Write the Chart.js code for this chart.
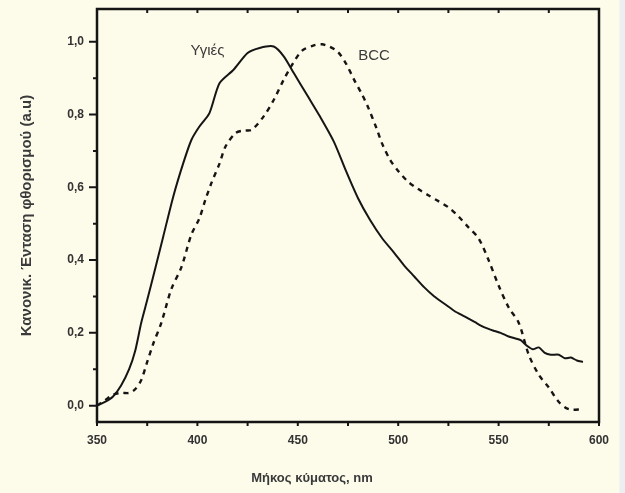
<!DOCTYPE html>
<html>
<head>
<meta charset="utf-8">
<script src="https://cdn.jsdelivr.net/npm/chart.js@4/dist/chart.umd.min.js"></script>
<style>
  html, body { margin: 0; padding: 0; background: #fdfbea; }
  #wrap { width: 625px; height: 493px; position: relative;
          background: linear-gradient(to right, #fdfbea 619px, #eceef2 620px); }
</style>
</head>
<body>
<div id="wrap"><canvas id="chart" width="625" height="493"></canvas></div>
<script>
// ============================================================
// Φάσματα φθορισμού: υγιής ιστός (Υγιές) vs BCC
// ============================================================

const healthyNm  = [350, 354, 358, 362, 366, 369, 372, 375, 378, 383, 388, 393, 397, 401, 406, 411, 418, 425, 431, 438,
                    443, 448, 455, 461, 468, 474, 480, 486, 492, 498, 503, 508, 513, 518, 523, 528, 533, 538,
                    543, 548, 551, 555, 558, 561, 564, 567, 570, 573, 576, 580, 583, 586, 589, 592];
const healthyVal = [0.0, 0.01, 0.025, 0.055, 0.10, 0.15, 0.227, 0.29, 0.355, 0.465, 0.575, 0.667, 0.73, 0.767, 0.804, 0.886, 0.923, 0.969, 0.983, 0.987,
                    0.96, 0.914, 0.85, 0.795, 0.725, 0.645, 0.57, 0.51, 0.46, 0.42, 0.385, 0.355, 0.325, 0.30, 0.28, 0.26, 0.245, 0.23,
                    0.215, 0.205, 0.20, 0.19, 0.185, 0.18, 0.165, 0.155, 0.16, 0.145, 0.14, 0.14, 0.13, 0.132, 0.124, 0.12];

const bccNm  = [350, 354, 358, 362, 366, 369, 372, 375, 378, 382, 387, 392, 397, 401, 404, 407, 411, 414, 419, 423,
                427, 433, 438, 443, 447, 452, 458, 462, 466, 470, 474, 478, 482, 485, 489, 492, 496, 500,
                505, 510, 515, 520, 525, 530, 535, 540, 545, 550, 555, 560, 565, 570, 575, 580, 585, 592];
const bccVal = [0.0, 0.015, 0.03, 0.035, 0.035, 0.045, 0.07, 0.12, 0.17, 0.227, 0.32, 0.38, 0.47, 0.515, 0.566, 0.612, 0.665, 0.712, 0.749, 0.756,
                0.758, 0.795, 0.84, 0.896, 0.935, 0.975, 0.99, 0.993, 0.986, 0.972, 0.94, 0.896, 0.855, 0.82, 0.765, 0.72, 0.675, 0.645,
                0.615, 0.595, 0.578, 0.562, 0.545, 0.52, 0.49, 0.46, 0.40, 0.33, 0.27, 0.228, 0.14, 0.085, 0.05, 0.01, -0.01, -0.01];

const xTicks = [350, 375, 400, 425, 450, 475, 500, 525, 550, 575, 600];
const yTicks = [0, 0.1, 0.2, 0.3, 0.4, 0.5, 0.6, 0.7, 0.8, 0.9, 1.0];

const xTitle = 'Μήκος κύματος, nm';
const yTitle = 'Κανονικ. Ένταση φθορισμού (a.u)';
const curveLabels = [
  { text: 'Υγιές', x: 405, y: 0.975 },
  { text: 'BCC',   x: 488, y: 0.962 },
];

const ink = '#151515';
const fam = '"Liberation Sans", Arial, sans-serif';

function pts(xs, ys) { return xs.map((x, i) => ({ x, y: ys[i] })); }

// Рамка, засечки и подписи — рисуем сами, чтобы были мелкие засечки
const framePlugin = {
  id: 'frame',
  afterDatasetsDraw(chart) {
    const { ctx, chartArea: a, scales: { x, y } } = chart;
    ctx.save();
    ctx.strokeStyle = ink;
    ctx.lineWidth = 2.5;
    ctx.strokeRect(a.left, a.top, a.right - a.left, a.bottom - a.top);

    ctx.lineWidth = 2;
    ctx.beginPath();
    for (const v of xTicks) {
      const px = x.getPixelForValue(v);
      ctx.moveTo(px, a.bottom);
      ctx.lineTo(px, a.bottom + 4);
      if (v > xTicks[0] && v < xTicks[xTicks.length - 1]) {
        ctx.moveTo(px, a.top);
        ctx.lineTo(px, a.top + 4);
      }
    }
    yTicks.forEach((v, i) => {
      const py = y.getPixelForValue(v);
      ctx.moveTo(a.left - (i % 2 === 0 ? 8 : 4), py);
      ctx.lineTo(a.left, py);
    });
    ctx.stroke();

    // подписи кривых
    ctx.fillStyle = '#3a3a3a';
    ctx.font = '15px ' + fam;
    ctx.textAlign = 'center';
    ctx.textBaseline = 'middle';
    for (const l of curveLabels) {
      ctx.fillText(l.text, x.getPixelForValue(l.x), y.getPixelForValue(l.y));
    }

    // заголовки осей
    ctx.font = 'bold 13px ' + fam;
    ctx.fillText(xTitle, 312, 478);
    ctx.translate(27, (a.top + a.bottom) / 2);
    ctx.rotate(-Math.PI / 2);
    ctx.font = 'bold 15px ' + fam;
    ctx.fillText(yTitle, 0, 0);
    ctx.restore();
  }
};

new Chart(document.getElementById('chart'), {
  type: 'line',
  data: {
    datasets: [
      {
        label: 'Υγιές',
        data: pts(healthyNm, healthyVal),
        borderColor: ink,
        borderWidth: 2,
        pointRadius: 0,
        tension: 0.25,
        fill: false,
      },
      {
        label: 'BCC',
        data: pts(bccNm, bccVal),
        borderColor: ink,
        borderWidth: 2.4,
        borderDash: [5, 5],
        pointRadius: 0,
        tension: 0.3,
        fill: false,
      },
    ],
  },
  options: {
    responsive: false,
    animation: false,
    devicePixelRatio: 1,
    layout: { padding: { top: 9, right: 26, left: 0, bottom: 0 } },
    plugins: { legend: { display: false }, tooltip: { enabled: false } },
    scales: {
      x: {
        type: 'linear',
        min: 350,
        max: 600,
        afterBuildTicks: s => { s.ticks = xTicks.map(v => ({ value: v })); },
        afterFit: s => { s.height = 71; },
        grid: { display: false, drawTicks: false },
        border: { display: false },
        ticks: {
          padding: 11,
          maxRotation: 0,
          autoSkip: false,
          color: '#333',
          font: { family: fam, size: 12, weight: 'bold' },
          callback: v => (v % 50 === 0 ? String(v) : ''),
        },
      },
      y: {
        type: 'linear',
        min: -0.045,
        max: 1.09,
        afterBuildTicks: s => { s.ticks = yTicks.map(v => ({ value: v })); },
        afterFit: s => { s.width = 97; },
        // невидимые засечки дают отступ подписям (padding раздувал бы верх)
        grid: { display: true, drawOnChartArea: false, drawTicks: true, tickLength: 13, tickColor: 'rgba(0,0,0,0)' },
        border: { display: false },
        ticks: {
          padding: 0,
          autoSkip: false,
          color: '#333',
          font: { family: fam, size: 12, weight: 'bold' },
          callback: (v, i) => (i % 2 === 0 ? v.toFixed(1).replace('.', ',') : ''),
        },
      },
    },
  },
  plugins: [framePlugin],
});
</script>
</body>
</html>
